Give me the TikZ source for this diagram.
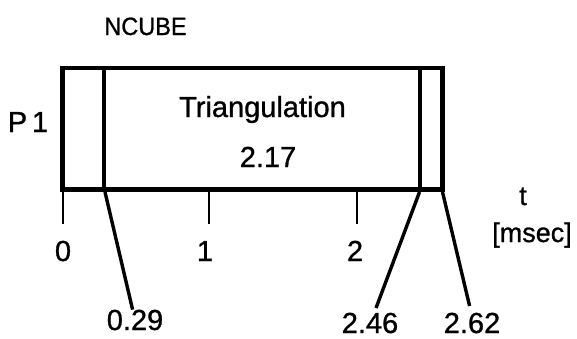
\documentclass[tikz,border=0pt]{standalone}
\usepackage{fontspec}
\setmainfont{Liberation Sans}[FakeBold=1]
\begin{document}
\begin{tikzpicture}[x=1pt,y=-1pt,
  lbl/.style={anchor=base,inner sep=0pt,font=\fontsize{29}{29}\selectfont},
  unit/.style={anchor=base,inner sep=0pt,font=\fontsize{27}{27}\selectfont},
  title/.style={anchor=base,inner sep=0pt,font=\fontsize{25}{25}\selectfont,xscale=0.94},
  frame/.style={line width=4.5pt},
  divider/.style={line width=4pt},
  tick/.style={line width=2pt},
  leader/.style={line width=3.4pt}]
\useasboundingbox (0,0) rectangle (577,338);
% box corners and time positions
\coordinate (tl) at (62.5,68);
\coordinate (br) at (442.5,189.5);
\coordinate (d1t) at (103.5,68);
\coordinate (d1b) at (103.5,189.5);
\coordinate (d2t) at (419.5,68);
\coordinate (d2b) at (419.5,189.5);
\draw[frame] (tl) rectangle (br);
\draw[divider] (d1t) -- (d1b);
\draw[divider] (d2t) -- (d2b);
% ticks
\coordinate (k0a) at (62.5,191);
\coordinate (k0b) at (62.5,224);
\coordinate (k1a) at (209,191);
\coordinate (k1b) at (209,224);
\coordinate (k2a) at (357,191);
\coordinate (k2b) at (357,224);
\draw[tick] (k0a) -- (k0b);
\draw[tick] (k1a) -- (k1b);
\draw[tick] (k2a) -- (k2b);
% texts
\node[title] (ncube) at (145.5,35) {NCUBE};
\node[lbl] (p1) at (28,132) {P\,1};
\node[lbl] (tri) at (262.5,117) {Triangulation};
\node[lbl] (dur) at (268,167) {2.17};
\node[lbl] (n0) at (63,261) {0};
\node[lbl] (n1) at (205,261) {1};
\node[lbl] (n2) at (355,261) {2};
\node[unit] (t) at (523,205) {t};
\node[unit] (ms) at (532,242) {[msec]};
\node[lbl] (v1) at (135,330) {0.29};
\node[lbl] (v2) at (370,333) {2.46};
\node[lbl] (v3) at (472,333) {2.62};
% leader lines
\coordinate (l1a) at (105,192);
\coordinate (l1b) at (132.6,309.6);
\coordinate (l2a) at (419.5,192);
\coordinate (l2b) at (376,308);
\coordinate (l3a) at (442.5,192);
\coordinate (l3b) at (469.6,306);
\draw[leader] (l1a) -- (l1b);
\draw[leader] (l2a) -- (l2b);
\draw[leader] (l3a) -- (l3b);
\end{tikzpicture}
\end{document}
